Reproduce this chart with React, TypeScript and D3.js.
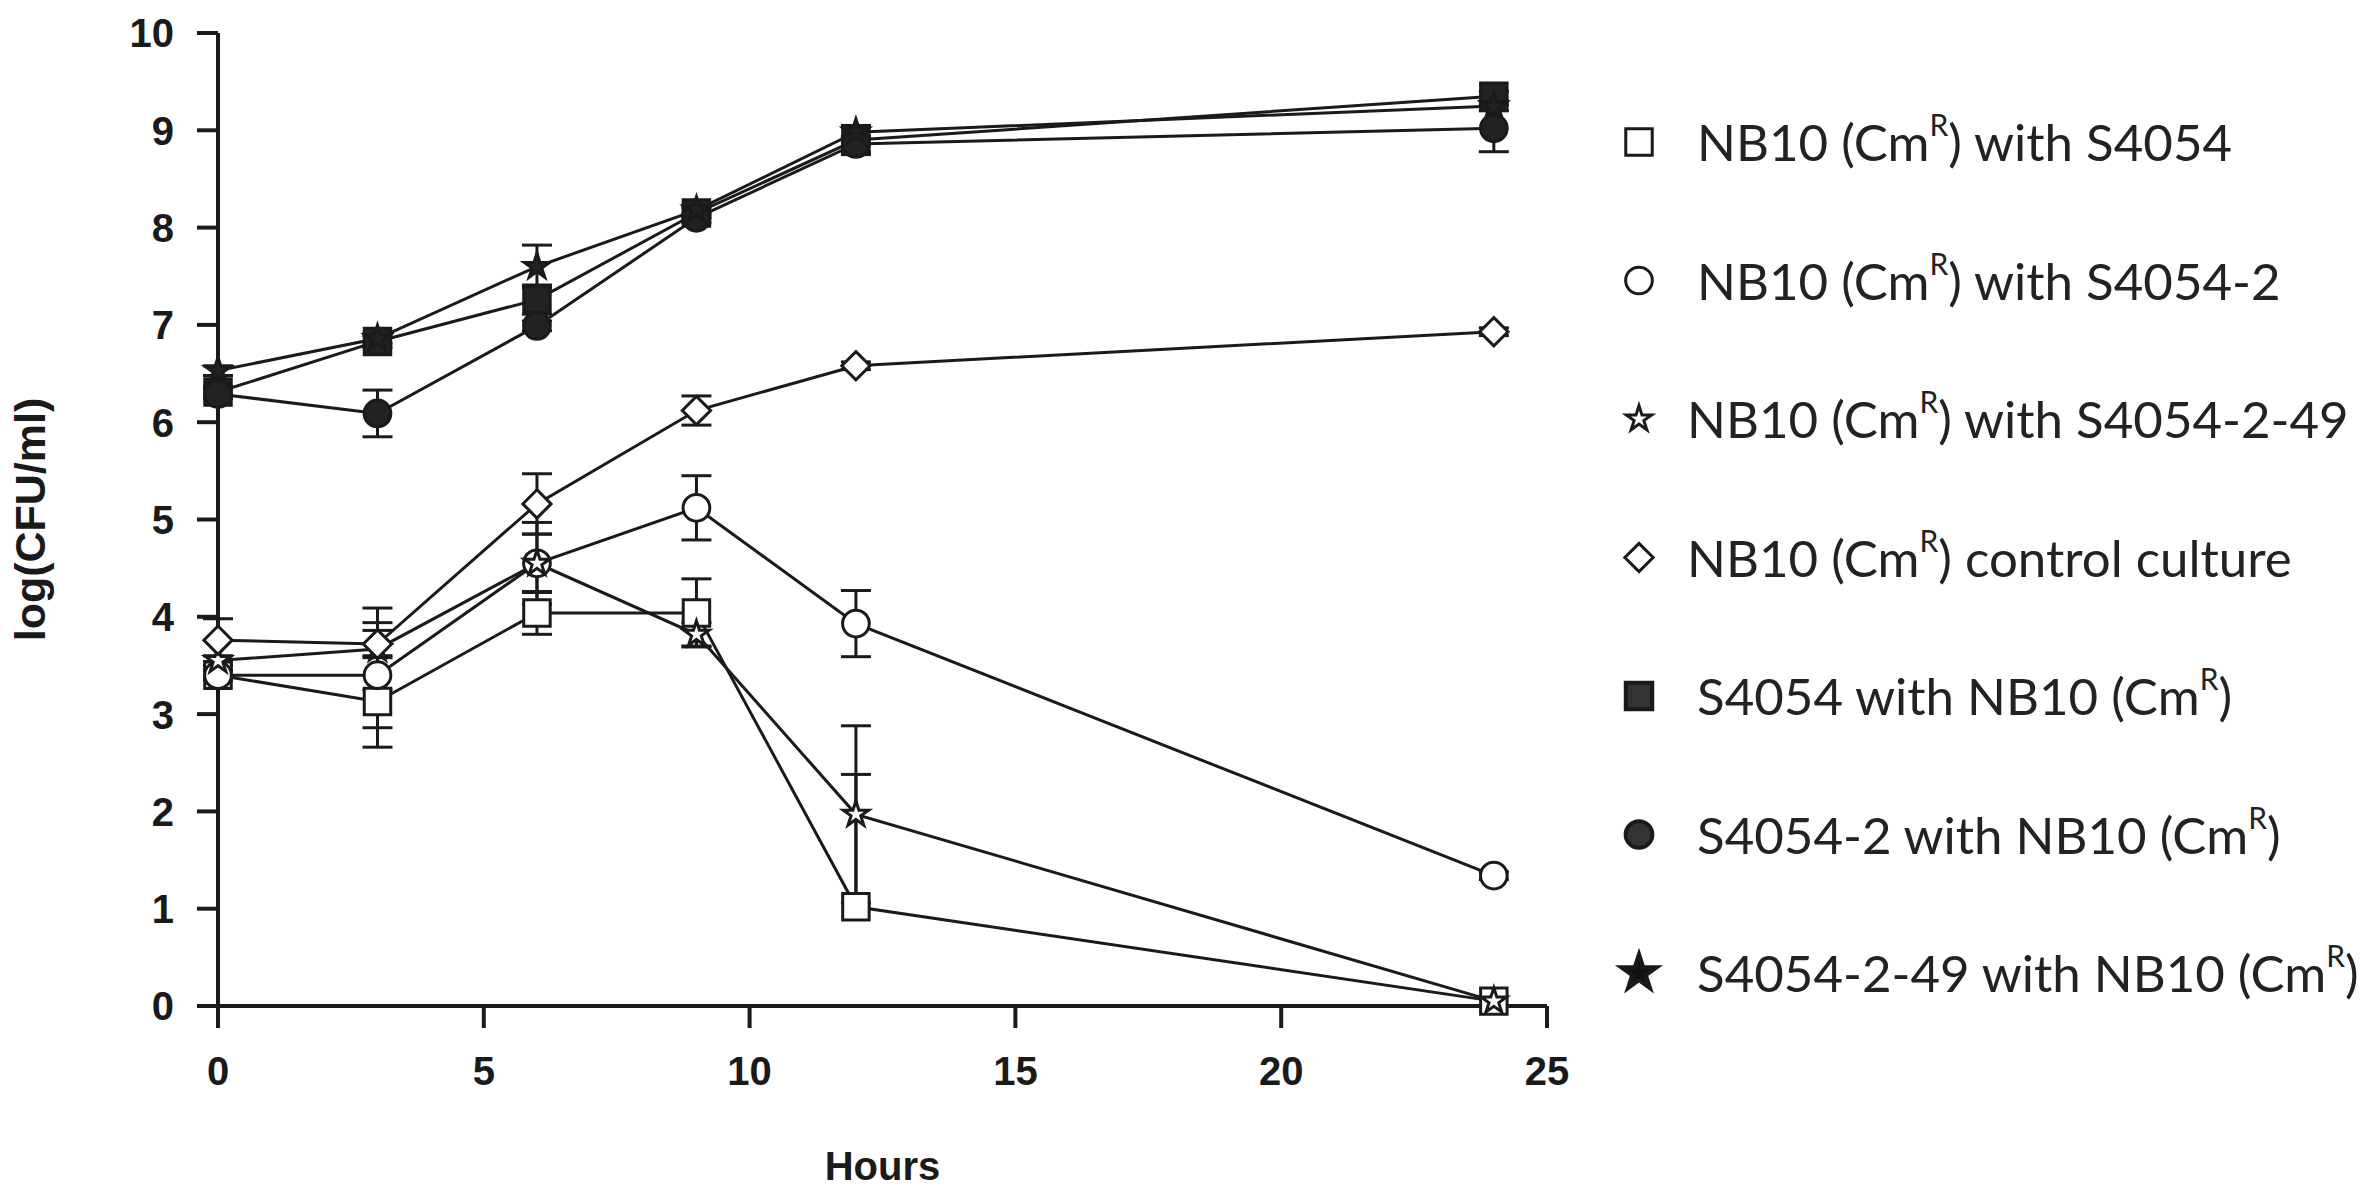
import { useEffect, useRef } from "react"
import * as d3 from "d3"

// sampling times (h)
const hours = [0, 3, 6, 9, 12, 24]

// log(CFU/ml) per series
const nb10WithS4054 = [3.4, 3.13, 4.04, 4.04, 1.02, 0.05]
const nb10WithS4054_2 = [3.4, 3.4, 4.55, 5.12, 3.93, 1.34]
const nb10WithS4054_2_49 = [3.55, 3.67, 4.55, 3.82, 1.97, 0.05]
const nb10Control = [3.76, 3.72, 5.16, 6.12, 6.58, 6.93]
const s4054WithNb10 = [6.31, 6.83, 7.26, 8.15, 8.9, 9.35]
const s4054_2WithNb10 = [6.29, 6.09, 6.99, 8.1, 8.86, 9.02]
const s4054_2_49WithNb10 = [6.53, 6.86, 7.6, 8.18, 8.98, 9.25]

// error bars: symmetric value or [down, up]
type Err = number | [number, number]
const nb10WithS4054Err: Err[] = [0.05, 0.47, 0.22, 0.35, [0, 1.36], 0]
const nb10WithS4054_2Err: Err[] = [0.05, 0.54, 0.42, 0.33, 0.34, 0.04]
const nb10WithS4054_2_49Err: Err[] = [0.05, 0.42, 0.3, 0.12, 0.91, 0]
const nb10ControlErr: Err[] = [0.22, 0.14, 0.31, 0.15, 0.04, 0.04]
const s4054WithNb10Err: Err[] = [0.06, 0.06, 0.15, 0.05, 0.15, 0.05]
const s4054_2WithNb10Err: Err[] = [0.05, 0.24, 0.05, 0.05, 0.08, 0.24]
const s4054_2_49WithNb10Err: Err[] = [0.05, 0.05, 0.22, 0.05, 0.05, 0.05]

const xTickValues = [0, 5, 10, 15, 20, 25]
const yTickValues = [0, 1, 2, 3, 4, 5, 6, 7, 8, 9, 10]

// legend labels split round the superscript
const legendLabels: [string, string, string][] = [
  ["NB10 (Cm", "R", ") with S4054"],
  ["NB10 (Cm", "R", ") with S4054-2"],
  ["NB10 (Cm", "R", ") with S4054-2-49"],
  ["NB10 (Cm", "R", ") control culture"],
  ["S4054 with NB10 (Cm", "R", ")"],
  ["S4054-2 with NB10 (Cm", "R", ")"],
  ["S4054-2-49 with NB10 (Cm", "R", ")"],
]

type Shape = "square" | "circle" | "star" | "diamond"

const diamond: d3.SymbolType = {
  draw(ctx, size) {
    const r = Math.sqrt(size / 2)
    ctx.moveTo(0, -r)
    ctx.lineTo(r, 0)
    ctx.lineTo(0, r)
    ctx.lineTo(-r, 0)
    ctx.closePath()
  },
}

const shapeType: Record<Shape, d3.SymbolType> = {
  square: d3.symbolSquare,
  circle: d3.symbolCircle,
  star: d3.symbolStar,
  diamond,
}
const shapeSize: Record<Shape, number> = {
  square: 700,
  circle: 560,
  star: 200,
  diamond: 400,
}

const series = [
  { values: nb10WithS4054, err: nb10WithS4054Err, shape: "square" as Shape, filled: false },
  { values: nb10WithS4054_2, err: nb10WithS4054_2Err, shape: "circle" as Shape, filled: false },
  { values: nb10WithS4054_2_49, err: nb10WithS4054_2_49Err, shape: "star" as Shape, filled: false },
  { values: nb10Control, err: nb10ControlErr, shape: "diamond" as Shape, filled: false },
  { values: s4054WithNb10, err: s4054WithNb10Err, shape: "square" as Shape, filled: true },
  { values: s4054_2WithNb10, err: s4054_2WithNb10Err, shape: "circle" as Shape, filled: true },
  { values: s4054_2_49WithNb10, err: s4054_2_49WithNb10Err, shape: "star" as Shape, filled: true },
]

export default function App() {
  const svgRef = useRef<SVGSVGElement>(null)

  useEffect(() => {
    if (!svgRef.current) return
    const svg = d3.select(svgRef.current)
    svg.selectAll("*").remove()

    const W = 2362
    const H = 1194
    svg.attr("width", W).attr("height", H).attr("viewBox", `0 0 ${W} ${H}`)
    svg.append("rect").attr("width", W).attr("height", H).attr("fill", "white")

    const x = d3.scaleLinear().domain([0, 25]).range([218, 1547])
    const y = d3.scaleLinear().domain([0, 10]).range([1006, 33])
    const tickLen = 21
    const axisFont = "'Liberation Sans', Arial, Helvetica, sans-serif"
    const ink = "#1a1a1a"

    const g = svg.append("g")

    // axes
    g.append("line")
      .attr("x1", x(0)).attr("x2", x(0))
      .attr("y1", y(10)).attr("y2", y(0) + tickLen)
      .attr("stroke", ink).attr("stroke-width", 4)
    g.append("line")
      .attr("x1", x(0) - tickLen).attr("x2", x(25))
      .attr("y1", y(0)).attr("y2", y(0))
      .attr("stroke", ink).attr("stroke-width", 4)

    g.selectAll(".ytick")
      .data(yTickValues)
      .enter()
      .append("line")
      .attr("x1", x(0) - tickLen).attr("x2", x(0))
      .attr("y1", (d) => y(d)).attr("y2", (d) => y(d))
      .attr("stroke", ink).attr("stroke-width", 4)

    g.selectAll(".ylabel")
      .data(yTickValues)
      .enter()
      .append("text")
      .attr("x", 174)
      .attr("y", (d) => y(d))
      .attr("dy", "0.36em")
      .attr("text-anchor", "end")
      .style("font-family", axisFont)
      .style("font-weight", "bold")
      .style("font-size", "40px")
      .style("fill", ink)
      .text((d) => d)

    g.selectAll(".xtick")
      .data(xTickValues)
      .enter()
      .append("line")
      .attr("x1", (d) => x(d)).attr("x2", (d) => x(d))
      .attr("y1", y(0)).attr("y2", y(0) + tickLen + 1)
      .attr("stroke", ink).attr("stroke-width", 4)

    g.selectAll(".xlabel")
      .data(xTickValues)
      .enter()
      .append("text")
      .attr("x", (d) => x(d))
      .attr("y", 1085)
      .attr("text-anchor", "middle")
      .style("font-family", axisFont)
      .style("font-weight", "bold")
      .style("font-size", "40px")
      .style("fill", ink)
      .text((d) => d)

    g.append("text")
      .attr("x", (x(0) + x(25)) / 2)
      .attr("y", 1180)
      .attr("text-anchor", "middle")
      .style("font-family", axisFont)
      .style("font-weight", "bold")
      .style("font-size", "40px")
      .style("fill", ink)
      .text("Hours")

    g.append("text")
      .attr("transform", `translate(45,${(y(0) + y(10)) / 2}) rotate(-90)`)
      .attr("text-anchor", "middle")
      .style("font-family", axisFont)
      .style("font-weight", "bold")
      .style("font-size", "43px")
      .style("fill", ink)
      .text("log(CFU/ml)")

    const line = d3
      .line<number>()
      .x((_, i) => x(hours[i]))
      .y((d) => y(d))

    // connecting lines
    series.forEach((s) => {
      g.append("path")
        .datum(s.values)
        .attr("fill", "none")
        .attr("stroke", ink)
        .attr("stroke-width", 3)
        .attr("d", line)
    })

    // error bars
    const cap = 15
    series.forEach((s) => {
      s.values.forEach((v, i) => {
        const e = s.err[i]
        const [down, up] = Array.isArray(e) ? e : [e, e]
        if (!down && !up) return
        const cx = x(hours[i])
        const eb = g.append("g").attr("stroke", ink).attr("stroke-width", 3)
        eb.append("line").attr("x1", cx).attr("x2", cx).attr("y1", y(v + up)).attr("y2", y(v - down))
        if (up) eb.append("line").attr("x1", cx - cap).attr("x2", cx + cap).attr("y1", y(v + up)).attr("y2", y(v + up))
        if (down) eb.append("line").attr("x1", cx - cap).attr("x2", cx + cap).attr("y1", y(v - down)).attr("y2", y(v - down))
      })
    })

    // markers
    series.forEach((s) => {
      const sym = d3.symbol().type(shapeType[s.shape]).size(shapeSize[s.shape])
      g.selectAll(null)
        .data(s.values)
        .enter()
        .append("path")
        .attr("transform", (d, i) => `translate(${x(hours[i])},${y(d)})`)
        .attr("d", sym)
        .attr("fill", s.filled ? "#222" : "white")
        .attr("stroke", ink)
        .attr("stroke-width", 3)
    })

    // legend
    const legend = svg.append("g")
    const rowY = (i: number) => 142 + i * 138.5
    series.forEach((s, i) => {
      const sym = d3.symbol().type(shapeType[s.shape]).size(shapeSize[s.shape] * (s.shape === "star" && s.filled ? 2 : 1))
      legend.append("path")
        .attr("transform", `translate(1639,${rowY(i)})`)
        .attr("d", sym)
        .attr("fill", s.filled ? (s.shape === "star" ? "#111" : "#333") : "white")
        .attr("stroke", ink)
        .attr("stroke-width", s.filled ? 4 : 3)

      const [pre, sup, post] = legendLabels[i]
      const t = legend.append("text")
        .attr("x", s.shape === "star" && !s.filled ? 1687 : s.shape === "diamond" ? 1687 : 1697)
        .attr("y", rowY(i) + 19)
        .style("font-family", "Lato, 'Open Sans', sans-serif")
        .style("font-size", "51px")
        .style("fill", "#222")
      t.append("tspan").text(pre)
      t.append("tspan").attr("dy", -25).style("font-size", "30px").text(sup)
      t.append("tspan").attr("dy", 25).text(post)
    })
  }, [])

  return (
    <div style={{ position: "absolute", left: 0, top: 0 }}>
      <svg ref={svgRef} style={{ display: "block" }}></svg>
    </div>
  )
}
